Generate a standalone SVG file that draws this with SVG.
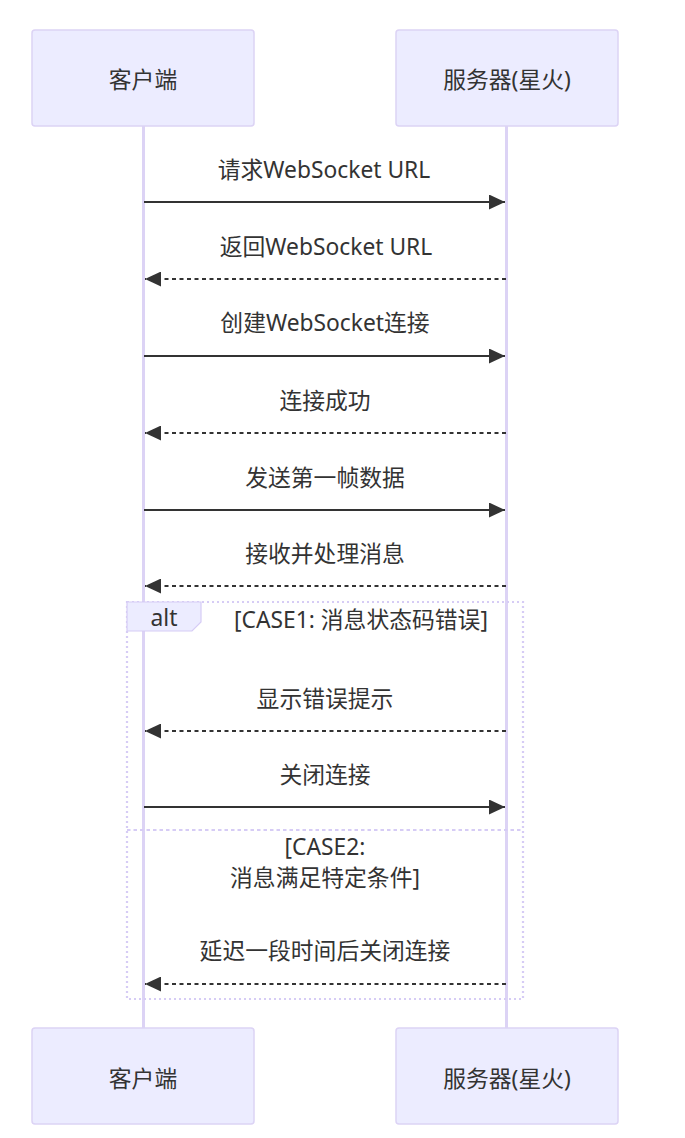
<svg xmlns="http://www.w3.org/2000/svg" width="685" height="1138" viewBox="0 0 685 1138">
<style>
.actor{fill:#ECECFF;stroke:#DCD3F5;stroke-width:1.5}
.t{font-family:"Noto Sans","Noto Sans CJK SC",sans-serif;font-size:22.8px;fill:#333;text-anchor:middle;dominant-baseline:central}
.life{stroke:#DCD3F5;stroke-width:3}
.msg{stroke:#333;stroke-width:2;fill:none}
.dash{stroke-dasharray:4,3.5}
.loop{stroke:#D6CCF5;stroke-width:2.2;fill:none;stroke-dasharray:2,3}
.sep{stroke:#D6CCF5;stroke-width:2.2;fill:none;stroke-dasharray:3.5,3}
</style>
<defs>
<marker id="ah" viewBox="0 0 16 15" refX="16" refY="7.5" markerWidth="16" markerHeight="15" markerUnits="userSpaceOnUse" orient="auto">
<path d="M0,0 L16,7.5 L0,15 Z" fill="#333"/>
</marker>
</defs>
<rect width="685" height="1138" fill="#fff"/>
<g id="lifelines">
<line class="life" x1="143.5" y1="126" x2="143.5" y2="1028"/>
<line class="life" x1="506.5" y1="126" x2="506.5" y2="1028"/>
</g>
<g id="client-top"><rect class="actor" x="32" y="30" width="222" height="96" rx="3"/><text class="t" x="143" y="79">客户端</text></g>
<g id="server-top"><rect class="actor" x="396" y="30" width="222" height="96" rx="3"/><text class="t" x="507" y="79">服务器(星火)</text></g>
<g id="client-bottom"><rect class="actor" x="32" y="1028" width="222" height="96" rx="3"/><text class="t" x="143" y="1078">客户端</text></g>
<g id="server-bottom"><rect class="actor" x="396" y="1028" width="222" height="96" rx="3"/><text class="t" x="507" y="1078">服务器(星火)</text></g>
<g id="alt">
<rect class="loop" x="127" y="602" width="396" height="397"/>
<polygon points="127,602 201,602 201,622 192,631 127,631" fill="#ECECFF" stroke="#D6CCF5" stroke-width="1.2"/>
<text class="t" x="164" y="617">alt</text>
<text class="t" x="361" y="619">[CASE1: 消息状态码错误]</text>
<line class="sep" x1="127" y1="830" x2="523" y2="830"/>
<text class="t" x="325" y="846">[CASE2:</text>
<text class="t" x="325" y="877">消息满足特定条件]</text>
</g>
<g id="connectors">
<text class="t" x="324" y="169">请求WebSocket URL</text>
<line class="msg" x1="144" y1="202" x2="505" y2="202" marker-end="url(#ah)"/>
<text class="t" x="326" y="246">返回WebSocket URL</text>
<line class="msg dash" x1="506" y1="279" x2="145" y2="279" marker-end="url(#ah)"/>
<text class="t" x="325" y="322">创建WebSocket连接</text>
<line class="msg" x1="144" y1="356" x2="505" y2="356" marker-end="url(#ah)"/>
<text class="t" x="325" y="400">连接成功</text>
<line class="msg dash" x1="506" y1="433" x2="145" y2="433" marker-end="url(#ah)"/>
<text class="t" x="325" y="477">发送第一帧数据</text>
<line class="msg" x1="144" y1="510" x2="505" y2="510" marker-end="url(#ah)"/>
<text class="t" x="325" y="553">接收并处理消息</text>
<line class="msg dash" x1="506" y1="586" x2="145" y2="586" marker-end="url(#ah)"/>
<text class="t" x="325" y="698">显示错误提示</text>
<line class="msg dash" x1="506" y1="731" x2="145" y2="731" marker-end="url(#ah)"/>
<text class="t" x="325" y="774">关闭连接</text>
<line class="msg" x1="144" y1="807" x2="505" y2="807" marker-end="url(#ah)"/>
<text class="t" x="325" y="950">延迟一段时间后关闭连接</text>
<line class="msg dash" x1="506" y1="984" x2="145" y2="984" marker-end="url(#ah)"/>
</g>
</svg>
